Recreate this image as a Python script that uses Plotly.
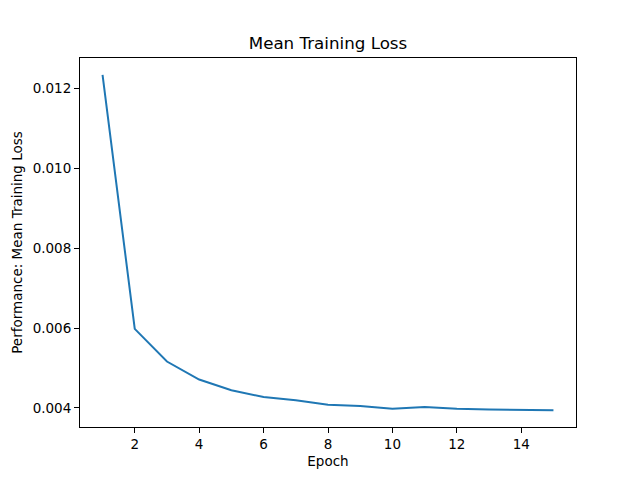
import plotly.graph_objects as go

epochs = [1, 2, 3, 4, 5, 6, 7, 8, 9, 10, 11, 12, 13, 14, 15]
loss = [0.01235, 0.00598, 0.00516, 0.00471, 0.00444, 0.00427, 0.00419, 0.00408,
        0.004045, 0.00398, 0.00402, 0.00398, 0.00396, 0.003955, 0.00394]
xticks = [2, 4, 6, 8, 10, 12, 14]
yticks = [0.004, 0.006, 0.008, 0.010, 0.012]

fig = go.Figure()
fig.add_trace(go.Scatter(x=epochs, y=loss, mode="lines",
                         line=dict(color="#1f77b4", width=2)))

font = dict(family="DejaVu Sans", size=13.5, color="black")
axis_common = dict(showline=True, linecolor="black", linewidth=1, mirror=True,
                   ticks="outside", ticklen=5, tickwidth=1, tickcolor="black",
                   showgrid=False, zeroline=False, tickfont=font)

pad_y = (max(loss) - min(loss)) * 0.05
fig.update_layout(
    width=640, height=480,
    margin=dict(l=80, r=64, t=58, b=53),
    paper_bgcolor="white", plot_bgcolor="white",
    showlegend=False,
    font=font,
    title=dict(text="Mean Training Loss", x=0.5, xref="paper", xanchor="center",
               y=1 - 43 / 480, yref="container", yanchor="middle",
               font=dict(family="DejaVu Sans", size=16.7, color="black")),
    xaxis=dict(range=[0.3, 15.7], tickvals=xticks,
               ticktext=[str(t) for t in xticks],
               title=dict(text="Epoch", font=font, standoff=5), **axis_common),
    yaxis=dict(range=[min(loss) - pad_y, max(loss) + pad_y], tickvals=yticks,
               ticktext=[f"{t:.3f}" for t in yticks],
               title=dict(text="Performance: Mean Training Loss", font=font, standoff=6),
               **axis_common),
)

fig.write_html("out.html")
